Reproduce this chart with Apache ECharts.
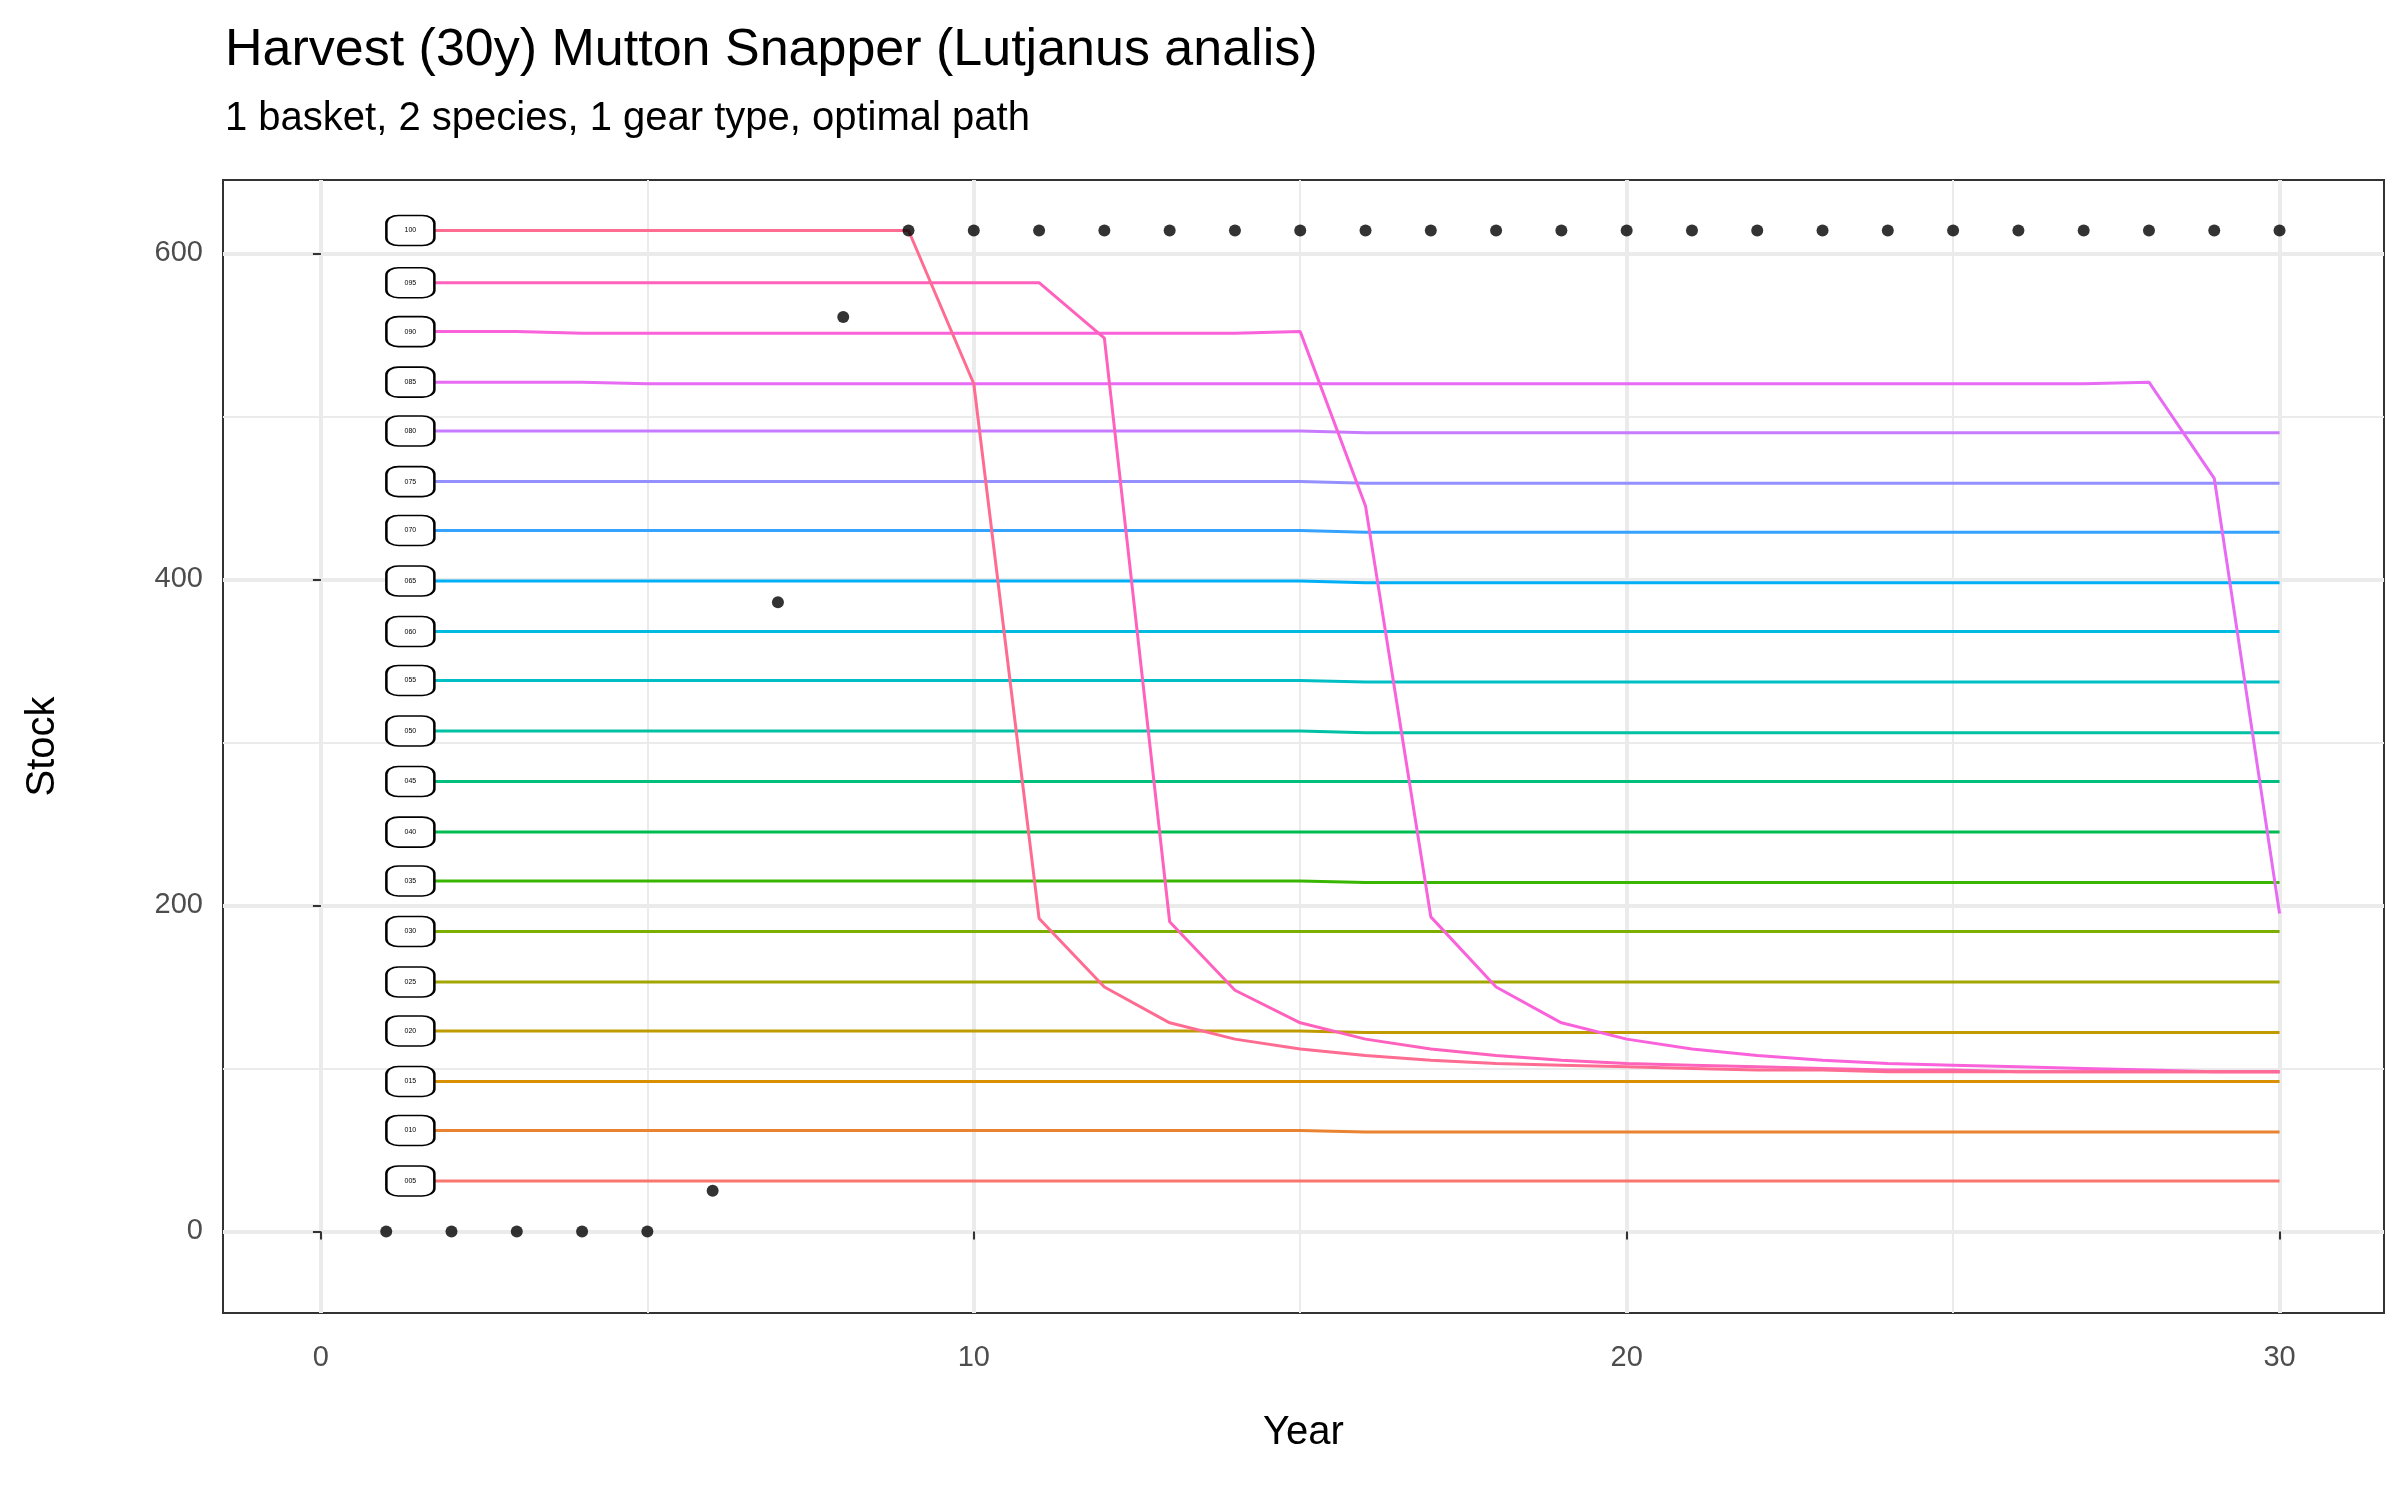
<!DOCTYPE html>
<html>
<head>
<meta charset="utf-8">
<script src="https://cdn.jsdelivr.net/npm/echarts@6/dist/echarts.min.js"></script>
<style>html,body{margin:0;background:#fff}#chart{width:2400px;height:1500px}</style>
</head>
<body>
<div id="chart"></div>
<script>
var years = [];
for (var i = 1; i <= 30; i++) years.push(i);

var names = ['005','010','015','020','025','030','035','040','045','050','055','060','065','070','075','080','085','090','095','100'];
var colors = ['#F8766D','#EA8331','#D89000','#C09B00','#A3A500','#7CAE00','#39B600','#00BB4E','#00BF7D','#00C1A3',
              '#00BFC4','#00BAE0','#00B0F6','#35A2FF','#9590FF','#C77CFF','#E76BF3','#FA62DB','#FF62BC','#FF6C91'];
// start level and end level of the flat lines (slight drift)
var startLevel = [31, 62, 92, 123, 153, 184, 215, 245, 276, 307, 338, 368, 399, 430, 460, 491, 521, 552, 582, 614];
var endLevel   = [31, 61, 92, 122, 153, 184, 214, 245, 276, 306, 337, 368, 398, 429, 459, 490, 520, 551, 582, 614];

// the four lines that collapse
var stock100 = [614,614,614,614,614,614,614,614,614,520,192,150,128,118,112,108,105,103,102,101,100,99,99,98,98,98,98,98,98,98];
var stock095 = [582,582,582,582,582,582,582,582,582,582,582,548,190,148,128,118,112,108,105,103,102,101,100,99,99,98,98,98,98,98];
var stock090 = [552,552,552,551,551,551,551,551,551,551,551,551,551,551,552,445,193,150,128,118,112,108,105,103,102,101,100,99,98,98];
var stock085 = [521,521,521,521,520,520,520,520,520,520,520,520,520,520,520,520,520,520,520,520,520,520,520,520,520,520,520,521,462,195];

var harvest = [0,0,0,0,0,25,386,561,614,614,614,614,614,614,614,614,614,614,614,614,614,614,614,614,614,614,614,614,614,614];

function flatLine(k) {
    var out = [];
    for (var j = 0; j < 30; j++) {
        out.push(j < 15 ? startLevel[k] : endLevel[k]);
    }
    return out;
}
var special = {'100': stock100, '095': stock095, '090': stock090, '085': stock085};

var series = [];
names.forEach(function (n, k) {
    var vals = special[n] || flatLine(k);
    series.push({
        type: 'line', name: n,
        data: vals.map(function (v, j) { return [years[j], v]; }),
        showSymbol: false, symbol: 'none',
        lineStyle: {color: colors[k], width: 3}, itemStyle: {color: colors[k]},
        silent: true, z: 2,
        markPoint: {
            silent: true, symbol: 'roundRect', symbolSize: [48, 30],
            itemStyle: {color: '#fff', borderColor: '#000', borderWidth: 2},
            label: {show: true, formatter: n, fontSize: 7, color: '#000', position: 'inside'},
            data: [{coord: [1.37, vals[0]]}]
        }
    });
});
series.push({
    type: 'scatter', name: 'harvest',
    data: harvest.map(function (v, j) { return [years[j], v]; }),
    symbolSize: 12, itemStyle: {color: '#000'}, z: 5
});

var gridLines = [0,10,20,30].map(function (v) { return {xAxis: v, lineStyle: {color: '#ebebeb', width: 4, type: 'solid'}}; })
    .concat([5,15,25].map(function (v) { return {xAxis: v, lineStyle: {color: '#ebebeb', width: 2, type: 'solid'}}; }))
    .concat([0,200,400,600].map(function (v) { return {yAxis: v, lineStyle: {color: '#ebebeb', width: 4, type: 'solid'}}; }))
    .concat([100,300,500].map(function (v) { return {yAxis: v, lineStyle: {color: '#ebebeb', width: 2, type: 'solid'}}; }));

var chart = echarts.init(document.getElementById('chart'));
chart.setOption({
    animation: false,
    textStyle: {fontFamily: 'Liberation Sans'},
    title: {
        text: 'Harvest (30y) Mutton Snapper (Lutjanus analis)',
        subtext: '1 basket, 2 species, 1 gear type, optimal path',
        left: 220, top: 20,
        textStyle: {fontSize: 52, fontWeight: 'normal', color: '#000'},
        subtextStyle: {fontSize: 40, color: '#000'},
        itemGap: 22
    },
    grid: {left: 223, right: 16, top: 180, bottom: 187, show: true, borderColor: '#333', borderWidth: 2, backgroundColor: 'transparent'},
    xAxis: {
        type: 'value', min: -1.5, max: 31.6, name: 'Year',
        nameLocation: 'middle', nameGap: 100,
        nameTextStyle: {fontSize: 40, color: '#000'},
        axisLabel: {fontSize: 29, color: '#4d4d4d', margin: 30, customValues: [0, 10, 20, 30]},
        axisLine: {show: false},
        axisTick: {show: true, customValues: [0, 10, 20, 30], length: 8, lineStyle: {color: '#333', width: 2}},
        splitLine: {show: false}
    },
    yAxis: {
        type: 'value', min: -50, max: 645, name: 'Stock',
        nameLocation: 'middle', nameGap: 160,
        nameTextStyle: {fontSize: 40, color: '#000'},
        axisLabel: {fontSize: 29, color: '#4d4d4d', margin: 20, customValues: [0, 200, 400, 600]},
        axisLine: {show: false},
        axisTick: {show: true, customValues: [0, 200, 400, 600], length: 8, lineStyle: {color: '#333', width: 2}},
        splitLine: {show: false}
    },
    series: series.concat([{
        type: 'line', data: [], silent: true,
        markLine: {silent: true, symbol: 'none', label: {show: false}, z: 0, data: gridLines}
    }])
});
</script>
</body>
</html>
